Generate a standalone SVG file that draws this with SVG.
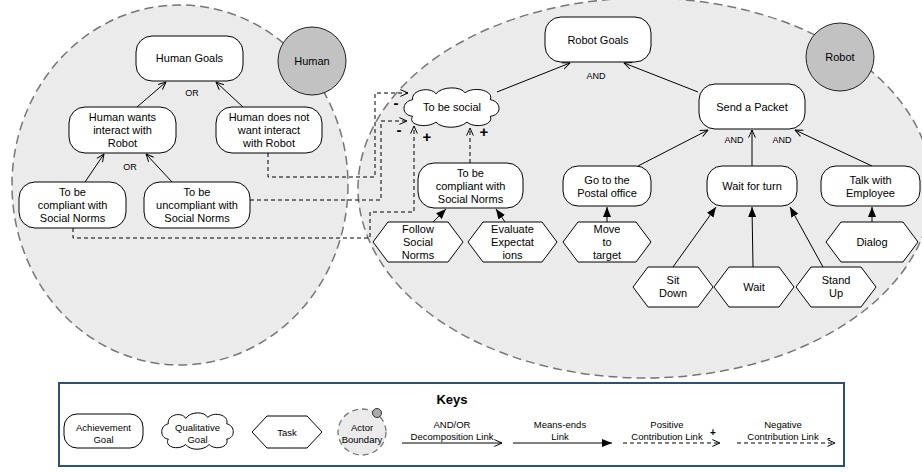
<svg xmlns="http://www.w3.org/2000/svg" width="922" height="472" viewBox="0 0 922 472">
<style>
.boundary{fill:#ebebeb;stroke:#777;stroke-width:1.5;stroke-dasharray:9 5}
.actor{fill:#c2c2c2;stroke:#222;stroke-width:1}
.shape{fill:#fff;stroke:#000;stroke-width:1}
.t{font-family:"Liberation Sans",Arial,sans-serif;font-size:11px;text-anchor:middle;fill:#000}
.lbl{font-size:9px}
.k{font-size:9.5px}
.sign{font-weight:bold;font-size:15px}
.ln{fill:none;stroke:#000;stroke-width:1}
.dec{marker-end:url(#open)}
.me{marker-end:url(#filled)}
.dash{stroke-dasharray:4 3}
</style>
<defs>
<marker id="open" viewBox="0 0 10 10" refX="9.5" refY="5" markerWidth="9" markerHeight="9" orient="auto" markerUnits="userSpaceOnUse"><path d="M1,1.2 L9.5,5 L1,8.8" fill="none" stroke="#000" stroke-width="1.1"/></marker>
<marker id="filled" viewBox="0 0 10 10" refX="10" refY="5" markerWidth="10" markerHeight="10" orient="auto" markerUnits="userSpaceOnUse"><path d="M0,1 L10,5 L0,9 Z" fill="#000"/></marker>
<path id="cloud" vector-effect="non-scaling-stroke" d="M10,12 C8,2 28,-2 34,6 C40,-2 60,-2 64,5 C72,-2 94,2 90,12 C102,14 102,28 90,29 C94,38 74,42 66,35 C58,42 40,42 34,35 C24,42 4,38 10,29 C-2,28 -2,14 10,12 Z"/>
</defs>

<g id="human-boundary">
<ellipse class="boundary" cx="180" cy="185" rx="168" ry="180"/>
</g>
<g id="robot-boundary">
<ellipse class="boundary" cx="645" cy="188" rx="287" ry="190"/>
</g>
<g id="human-actor">
<circle class="actor" cx="312" cy="61" r="34"/>
<text class="t" x="312" y="65">Human</text>
</g>
<g id="robot-actor">
<circle class="actor" cx="840" cy="57" r="34"/>
<text class="t" x="840" y="61">Robot</text>
</g>

<g id="connectors">
<path class="ln dec" d="M137,107 L166,82"/>
<path class="ln dec" d="M243,107 L216,82"/>
<path class="ln dec" d="M85,182 L104,154"/>
<path class="ln dec" d="M172,182 L146,154"/>
<path class="ln dec" d="M497,92 L570,63"/>
<path class="ln dec" d="M698,92 L624,63"/>
<path class="ln dec" d="M638,166 L708,130"/>
<path class="ln dec" d="M752,166 L752,130"/>
<path class="ln dec" d="M872,166 L795,130"/>
<path class="ln me" d="M433,222 L446,209"/>
<path class="ln me" d="M505,222 L496,209"/>
<path class="ln me" d="M607,222 L607,207"/>
<path class="ln me" d="M872,222 L872,207"/>
<path class="ln me" d="M673,267 L716,207"/>
<path class="ln me" d="M753,267 L752,207"/>
<path class="ln me" d="M823,267 L790,207"/>
<path class="ln dash dec" d="M268,153 V177 H375 V93 H408"/>
<path class="ln dash dec" d="M250,200 H381 V121 H407"/>
<path class="ln dash dec" d="M73,228 V238 H370 V212 H414 V126"/>
<path class="ln dash dec" d="M470,163 V128"/>
<text class="t sign" x="396" y="108">-</text>
<text class="t sign" x="399" y="135">-</text>
<text class="t sign" x="427" y="142">+</text>
<text class="t sign" x="484" y="137">+</text>
<text class="t lbl" x="192" y="96">OR</text>
<text class="t lbl" x="130" y="170">OR</text>
<text class="t lbl" x="596" y="79">AND</text>
<text class="t lbl" x="734" y="143">AND</text>
<text class="t lbl" x="782" y="143">AND</text>
</g>

<g id="human-goals">
<rect class="shape" x="136" y="36" width="107" height="45" rx="16"/>
<text class="t" x="189.5" y="62">Human Goals</text>
</g>
<g id="human-wants">
<rect class="shape" x="69" y="107" width="107" height="46" rx="16"/>
<text class="t" x="122.5" y="121">Human wants</text>
<text class="t" x="122.5" y="134">interact with</text>
<text class="t" x="122.5" y="147">Robot</text>
</g>
<g id="human-not-want">
<rect class="shape" x="216" y="107" width="106" height="46" rx="16"/>
<text class="t" x="269" y="121">Human does not</text>
<text class="t" x="269" y="134">want interact</text>
<text class="t" x="269" y="147">with Robot</text>
</g>
<g id="human-compliant">
<rect class="shape" x="19" y="182" width="107" height="46" rx="16"/>
<text class="t" x="72.5" y="196">To be</text>
<text class="t" x="72.5" y="209">compliant with</text>
<text class="t" x="72.5" y="222">Social Norms</text>
</g>
<g id="human-uncompliant">
<rect class="shape" x="144" y="182" width="106" height="46" rx="16"/>
<text class="t" x="197" y="196">To be</text>
<text class="t" x="197" y="209">uncompliant with</text>
<text class="t" x="197" y="222">Social Norms</text>
</g>

<g id="robot-goals">
<rect class="shape" x="545" y="17" width="106" height="45" rx="16"/>
<text class="t" x="598" y="43.5">Robot Goals</text>
</g>
<g id="to-be-social">
<use href="#cloud" class="shape" transform="translate(403,88) scale(0.97,0.975)"/>
<text class="t" x="452" y="111">To be social</text>
</g>
<g id="send-packet">
<rect class="shape" x="699" y="84" width="106" height="45" rx="16"/>
<text class="t" x="752" y="110.5">Send a Packet</text>
</g>
<g id="robot-compliant">
<rect class="shape" x="418" y="163" width="105" height="45" rx="16"/>
<text class="t" x="470.5" y="176.5">To be</text>
<text class="t" x="470.5" y="189.5">compliant with</text>
<text class="t" x="470.5" y="202.5">Social Norms</text>
</g>
<g id="postal-office">
<rect class="shape" x="563" y="166" width="88" height="40" rx="15"/>
<text class="t" x="607" y="183.5">Go to the</text>
<text class="t" x="607" y="196.5">Postal office</text>
</g>
<g id="wait-for-turn">
<rect class="shape" x="707" y="166" width="90" height="40" rx="15"/>
<text class="t" x="752" y="190">Wait for turn</text>
</g>
<g id="talk-employee">
<rect class="shape" x="821" y="166" width="99" height="40" rx="15"/>
<text class="t" x="870.5" y="183.5">Talk with</text>
<text class="t" x="870.5" y="196.5">Employee</text>
</g>
<g id="follow-norms">
<path class="shape" d="M373,242 L388,222 L448,222 L463,242 L448,262 L388,262 Z"/>
<text class="t" x="418" y="233">Follow</text>
<text class="t" x="418" y="246">Social</text>
<text class="t" x="418" y="259">Norms</text>
</g>
<g id="evaluate-expectations">
<path class="shape" d="M468,242 L483,222 L542,222 L557,242 L542,262 L483,262 Z"/>
<text class="t" x="512.5" y="233">Evaluate</text>
<text class="t" x="512.5" y="246">Expectat</text>
<text class="t" x="512.5" y="259">ions</text>
</g>
<g id="move-target">
<path class="shape" d="M563,242 L578,222 L636,222 L651,242 L636,262 L578,262 Z"/>
<text class="t" x="607" y="233">Move</text>
<text class="t" x="607" y="246">to</text>
<text class="t" x="607" y="259">target</text>
</g>
<g id="dialog">
<path class="shape" d="M826,242 L841,222 L903,222 L918,242 L903,262 L841,262 Z"/>
<text class="t" x="872" y="246">Dialog</text>
</g>
<g id="sit-down">
<path class="shape" d="M633,287 L648,267 L698,267 L713,287 L698,307 L648,307 Z"/>
<text class="t" x="673" y="284">Sit</text>
<text class="t" x="673" y="297">Down</text>
</g>
<g id="wait">
<path class="shape" d="M714,287 L729,267 L779,267 L794,287 L779,307 L729,307 Z"/>
<text class="t" x="754" y="291">Wait</text>
</g>
<g id="stand-up">
<path class="shape" d="M796,287 L811,267 L861,267 L876,287 L861,307 L811,307 Z"/>
<text class="t" x="836" y="284">Stand</text>
<text class="t" x="836" y="297">Up</text>
</g>

<g id="keys">
<rect x="59" y="383" width="785" height="83" fill="#fff" stroke="#2d4f7c" stroke-width="2"/>
<text class="t" x="452" y="404" style="font-weight:bold;font-size:13px">Keys</text>
<rect class="shape" x="64" y="414" width="79" height="34" rx="13"/>
<text class="t k" x="103.5" y="431">Achievement</text>
<text class="t k" x="103.5" y="443">Goal</text>
<use href="#cloud" class="shape" transform="translate(161,413) scale(0.73,0.9)"/>
<text class="t k" x="197.5" y="431">Qualitative</text>
<text class="t k" x="197.5" y="443">Goal</text>
<path class="shape" d="M252,432 L267,416 L307,416 L322,432 L307,448 L267,448 Z"/>
<text class="t k" x="287" y="436">Task</text>
<ellipse cx="362" cy="432" rx="24" ry="23" fill="#ebebeb" stroke="#777" stroke-width="1.3" stroke-dasharray="6 4"/>
<circle cx="377" cy="413" r="4.5" fill="#aaa" stroke="#333" stroke-width="1"/>
<text class="t k" x="362" y="431">Actor</text>
<text class="t k" x="362" y="443">Boundary</text>
<text class="t k" x="452" y="428">AND/OR</text>
<text class="t k" x="452" y="440">Decomposition Link</text>
<path class="ln dec" d="M402,443 H502"/>
<text class="t k" x="560" y="428">Means-ends</text>
<text class="t k" x="560" y="440">Link</text>
<path class="ln me" d="M513,443 H612"/>
<text class="t k" x="667" y="428">Positive</text>
<text class="t k" x="667" y="440">Contribution Link</text>
<path class="ln dash dec" d="M623,443 H720"/>
<text class="t" x="713" y="436" style="font-weight:bold;font-size:10px">+</text>
<text class="t k" x="783" y="428">Negative</text>
<text class="t k" x="783" y="440">Contribution Link</text>
<path class="ln dash dec" d="M737,443 H835"/>
<text class="t" x="829" y="441" style="font-weight:bold;font-size:9px">-</text>
</g>
</svg>
